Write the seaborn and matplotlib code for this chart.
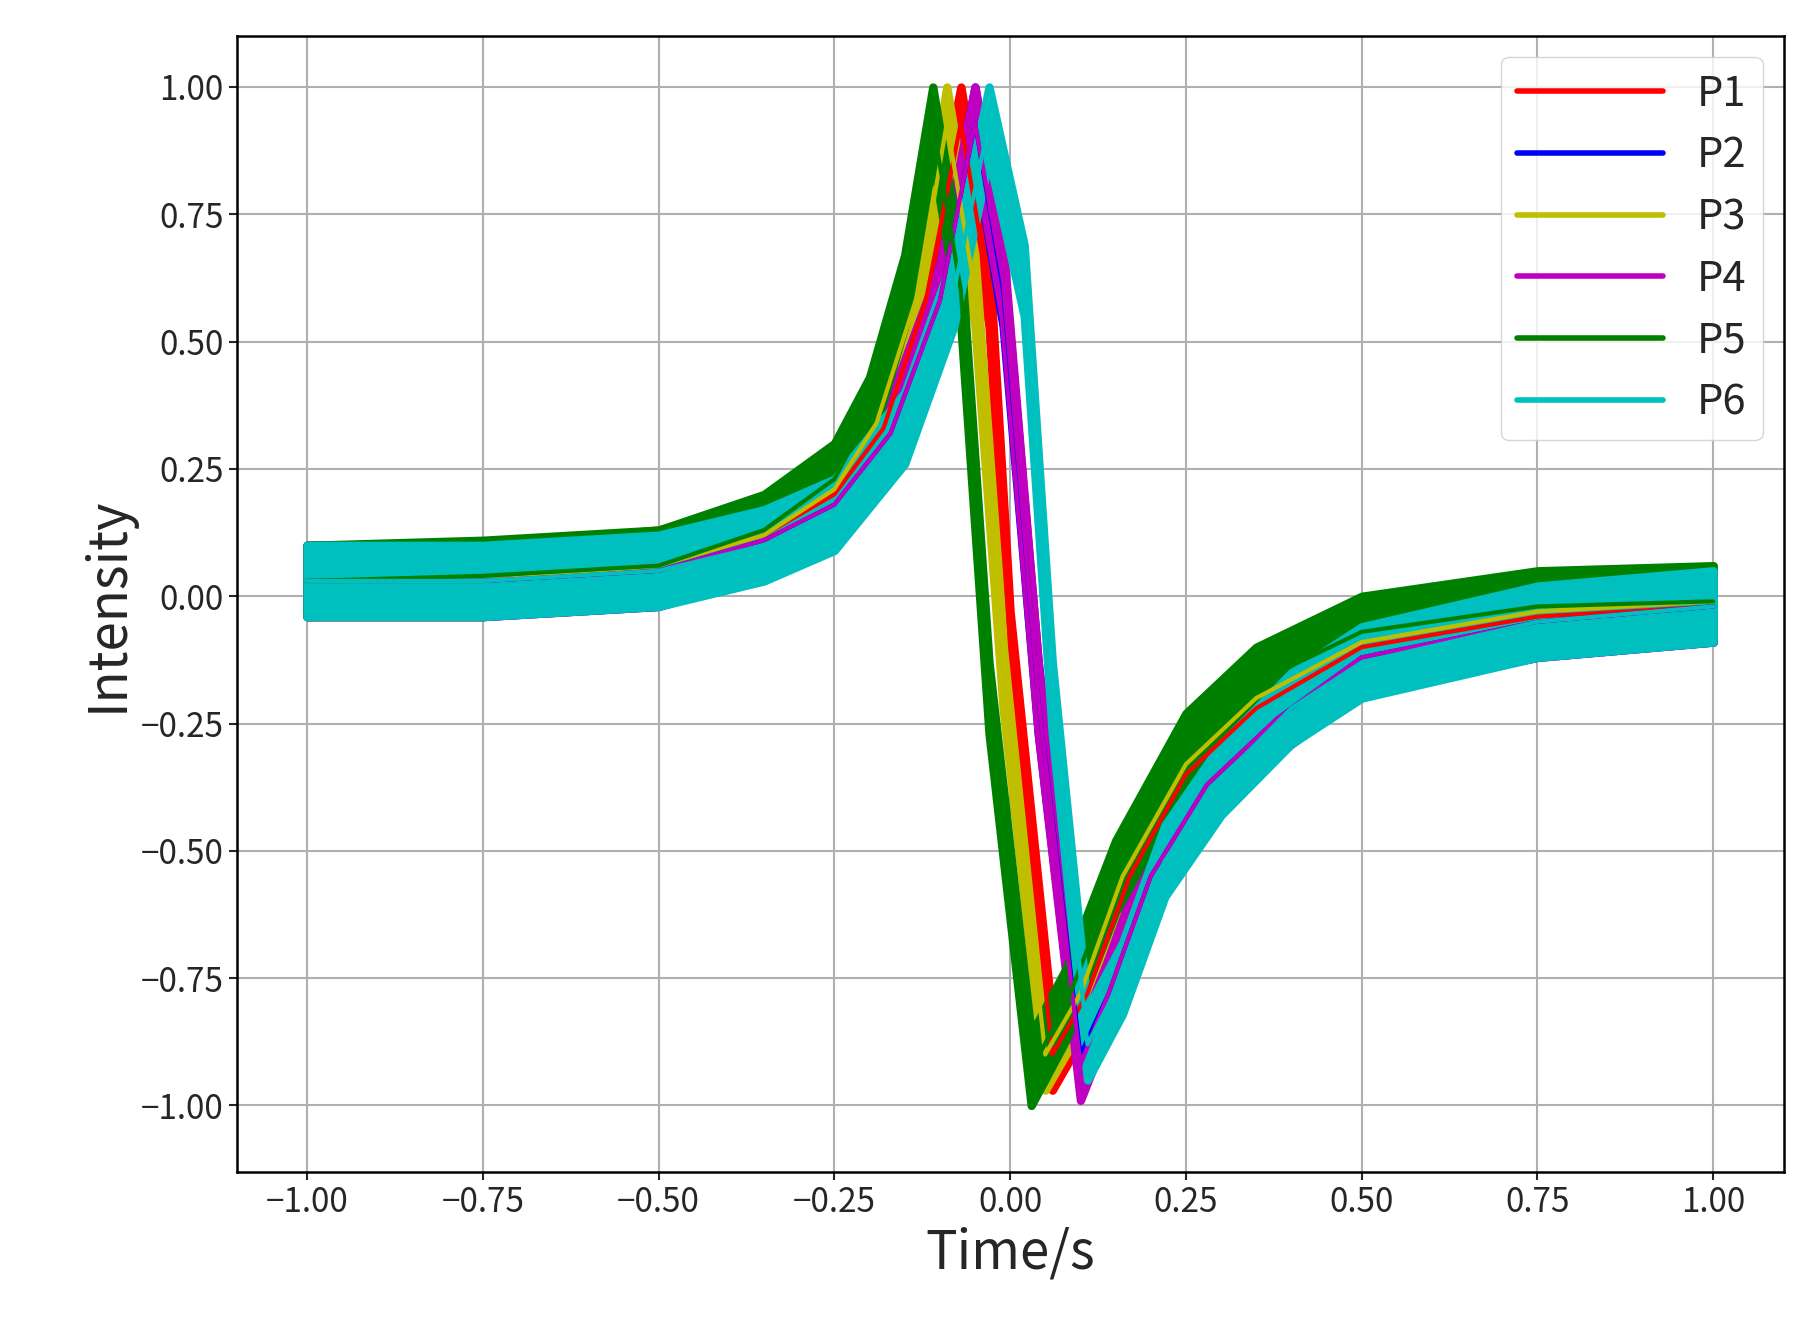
import numpy as np
import pandas as pd
import matplotlib
matplotlib.use("Agg")
import matplotlib.pyplot as plt
import seaborn as sns

labels = ["P1", "P2", "P3", "P4", "P5", "P6"]
colors = ["#ff0000", "#0000ff", "#bfbf00", "#bf00bf", "#008000", "#00bfbf"]

p1_x = [-1, -0.75, -0.5, -0.35, -0.25, -0.18, -0.12, -0.07, -0.03, 0.0, 0.06, 0.11, 0.17, 0.25, 0.35, 0.5, 0.75, 1]
p1_y = [0.03, 0.03, 0.06, 0.12, 0.2, 0.33, 0.58, 0.93, 0.6, -0.1, -0.9, -0.78, -0.55, -0.35, -0.22, -0.1, -0.04, -0.02]
p2_x = [-1, -0.75, -0.5, -0.35, -0.25, -0.17, -0.1, -0.05, -0.01, 0.04, 0.1, 0.14, 0.2, 0.28, 0.38, 0.5, 0.75, 1]
p2_y = [0.03, 0.03, 0.05, 0.11, 0.18, 0.32, 0.58, 0.93, 0.6, -0.2, -0.9, -0.78, -0.55, -0.37, -0.24, -0.12, -0.05, -0.02]
p3_x = [-1, -0.75, -0.5, -0.35, -0.25, -0.19, -0.13, -0.09, -0.05, -0.01, 0.05, 0.1, 0.16, 0.25, 0.35, 0.5, 0.75, 1]
p3_y = [0.03, 0.03, 0.06, 0.12, 0.21, 0.34, 0.6, 0.93, 0.6, -0.15, -0.9, -0.78, -0.55, -0.33, -0.2, -0.09, -0.03, -0.01]
p4_x = [-1, -0.75, -0.5, -0.35, -0.25, -0.17, -0.1, -0.05, -0.01, 0.04, 0.1, 0.14, 0.2, 0.28, 0.38, 0.5, 0.75, 1]
p4_y = [0.03, 0.03, 0.05, 0.11, 0.18, 0.32, 0.58, 0.93, 0.62, -0.2, -0.92, -0.78, -0.55, -0.37, -0.24, -0.12, -0.05, -0.02]
p5_x = [-1, -0.75, -0.5, -0.35, -0.25, -0.2, -0.15, -0.11, -0.07, -0.03, 0.03, 0.08, 0.15, 0.25, 0.35, 0.5, 0.75, 1]
p5_y = [0.03, 0.04, 0.06, 0.13, 0.23, 0.36, 0.6, 0.93, 0.6, -0.2, -0.93, -0.8, -0.55, -0.3, -0.17, -0.07, -0.02, -0.01]
p6_x = [-1, -0.75, -0.5, -0.35, -0.25, -0.15, -0.08, -0.03, 0.02, 0.06, 0.11, 0.16, 0.22, 0.3, 0.4, 0.5, 0.75, 1]
p6_y = [0.03, 0.03, 0.05, 0.1, 0.16, 0.33, 0.6, 0.93, 0.62, -0.2, -0.88, -0.75, -0.52, -0.36, -0.22, -0.13, -0.05, -0.02]

xs = [p1_x, p2_x, p3_x, p4_x, p5_x, p6_x]
ys = [p1_y, p2_y, p3_y, p4_y, p5_y, p6_y]
band = 0.07

sns.set_style("white")
plt.rcParams['font.family'] = ['Noto Sans CJK SC', 'DejaVu Sans']
fig = plt.figure(figsize=(18.07, 13.36), dpi=100)
ax = fig.add_axes([0.131, 0.123, 0.856, 0.85])

for lab, c, x, y in zip(labels, colors, xs, ys):
    df = pd.DataFrame({"t": x, "v": y})
    ax.fill_between(df["t"], df["v"] - band, df["v"] + band, color=c, lw=6, edgecolor=c, zorder=2)
    sns.lineplot(data=df, x="t", y="v", ax=ax, color=c, lw=3, label=lab, zorder=3)

ax.set_xlim(-1.1, 1.1)
ax.set_ylim(-1.13, 1.1)
ax.set_xticks(np.arange(-1, 1.01, 0.25))
ax.set_yticks(np.arange(-1, 1.01, 0.25))
ax.set_xticklabels([f"{v:.2f}".replace("-", "\u2212") for v in np.arange(-1, 1.01, 0.25)])
ax.set_yticklabels([f"{v:.2f}".replace("-", "\u2212") for v in np.arange(-1, 1.01, 0.25)])
ax.grid(True, color="#b0b0b0", lw=1.5)
ax.set_axisbelow(True)
ax.tick_params(labelsize=24, length=6, width=1.5, direction="out", bottom=True, left=True)
for s in ax.spines.values():
    s.set_color("black"); s.set_linewidth(1.8)
ax.set_xlabel("Time/s", fontsize=38)
ax.set_ylabel("Intensity", fontsize=38)
leg = ax.legend(loc="upper right", fontsize=30, handlelength=3.5, frameon=True)
for h in leg.get_lines():
    h.set_linewidth(4)
fig.savefig("out.png", dpi=100)
